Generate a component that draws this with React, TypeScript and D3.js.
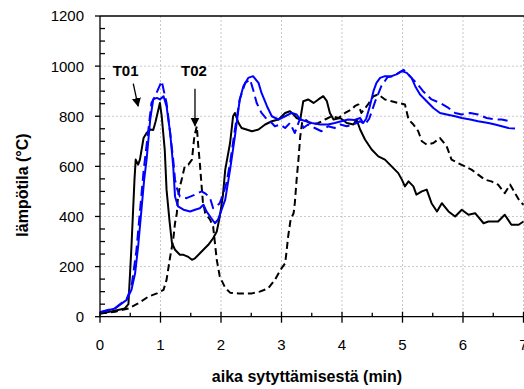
import React from "react";
import * as d3 from "d3";

const xTicks = [0, 1, 2, 3, 4, 5, 6, 7];
const yTicks = [0, 200, 400, 600, 800, 1000, 1200];

const blackSolid: [number, number][] = [
  [0, 13], [0.2, 22], [0.41, 33], [0.47, 50], [0.52, 280], [0.57, 547], [0.59, 627], [0.63, 607], [0.66, 627],
  [0.72, 713], [0.77, 733], [0.83, 747], [0.88, 745], [0.92, 780], [0.99, 853], [1.02, 800], [1.07, 667],
  [1.1, 507], [1.15, 380], [1.19, 293], [1.24, 267], [1.32, 247], [1.38, 247], [1.45, 240], [1.52, 227],
  [1.57, 233], [1.68, 260], [1.79, 287], [1.87, 313], [1.93, 340], [1.98, 400], [2.03, 480], [2.07, 587],
  [2.15, 693], [2.2, 800], [2.23, 813], [2.29, 773], [2.34, 753], [2.42, 747], [2.51, 740], [2.62, 747],
  [2.73, 767], [2.84, 780], [2.95, 787], [3.06, 813], [3.14, 820], [3.2, 807], [3.25, 793], [3.31, 787],
  [3.36, 860], [3.44, 867], [3.53, 853], [3.61, 867], [3.69, 880], [3.75, 860], [3.8, 813], [3.86, 787],
  [3.97, 793], [4.08, 773], [4.19, 767], [4.24, 787], [4.3, 747], [4.38, 707], [4.49, 667], [4.6, 640],
  [4.71, 627], [4.82, 600], [4.93, 573], [4.99, 547], [5.04, 520], [5.1, 540], [5.18, 520], [5.23, 487],
  [5.32, 500], [5.4, 507], [5.48, 453], [5.57, 420], [5.65, 453], [5.76, 420], [5.87, 400], [5.98, 427],
  [6.09, 407], [6.2, 413], [6.34, 373], [6.42, 380], [6.58, 380], [6.69, 407], [6.8, 367], [6.92, 367], [7.0, 380],
];

const blackDashed: [number, number][] = [
  [0, 13], [0.25, 20], [0.47, 33], [0.63, 53], [0.8, 80], [0.94, 93], [1.05, 107], [1.1, 147], [1.16, 240],
  [1.21, 307], [1.24, 373], [1.27, 413], [1.29, 480], [1.32, 520], [1.35, 547], [1.4, 600], [1.46, 607],
  [1.52, 627], [1.56, 720], [1.6, 760], [1.62, 693], [1.65, 613], [1.68, 520], [1.7, 460], [1.74, 413],
  [1.82, 387], [1.87, 360], [1.93, 227], [1.98, 160], [2.07, 115], [2.15, 96], [2.29, 93], [2.51, 93],
  [2.64, 100], [2.78, 113], [2.89, 147], [3.0, 193], [3.06, 213], [3.08, 253], [3.11, 320], [3.15, 387],
  [3.2, 413], [3.22, 453], [3.25, 547], [3.28, 627], [3.31, 720], [3.34, 773], [3.39, 787], [3.5, 767],
  [3.61, 773], [3.72, 787], [3.83, 800], [3.94, 793], [4.05, 813], [4.16, 827], [4.21, 840], [4.27, 847],
  [4.32, 813], [4.43, 847], [4.52, 880], [4.6, 887], [4.71, 867], [4.82, 860], [4.93, 853], [5.04, 847],
  [5.1, 787], [5.18, 767], [5.26, 740], [5.32, 700], [5.4, 687], [5.51, 693], [5.62, 713], [5.73, 680],
  [5.81, 627], [5.92, 613], [6.03, 600], [6.14, 587], [6.25, 567], [6.36, 547], [6.47, 540], [6.58, 527],
  [6.69, 493], [6.78, 527], [6.86, 493], [6.94, 460], [7.0, 447],
];

const blueSolid: [number, number][] = [
  [0, 18], [0.25, 33], [0.44, 67], [0.52, 107], [0.58, 173], [0.63, 280], [0.69, 440], [0.73, 547],
  [0.77, 627], [0.83, 787], [0.88, 867], [0.94, 873], [0.99, 867], [1.05, 880], [1.1, 840], [1.16, 733],
  [1.21, 600], [1.24, 480], [1.29, 440], [1.38, 427], [1.49, 420], [1.57, 427], [1.65, 433], [1.71, 447],
  [1.76, 420], [1.84, 393], [1.9, 373], [1.95, 387], [2.01, 427], [2.07, 467], [2.15, 587], [2.23, 720],
  [2.31, 867], [2.37, 920], [2.45, 953], [2.53, 960], [2.62, 933], [2.67, 893], [2.76, 840], [2.84, 800],
  [2.95, 787], [3.06, 800], [3.17, 813], [3.25, 807], [3.31, 787], [3.5, 773], [3.64, 767], [3.77, 767],
  [3.88, 773], [3.99, 780], [4.1, 787], [4.21, 785], [4.3, 793], [4.35, 773], [4.4, 790], [4.46, 840],
  [4.52, 900], [4.57, 933], [4.63, 953], [4.71, 960], [4.82, 960], [4.9, 967], [4.99, 980], [5.07, 973],
  [5.15, 953], [5.21, 920], [5.29, 887], [5.4, 860], [5.51, 833], [5.62, 813], [5.73, 807], [5.87, 800],
  [5.98, 793], [6.12, 787], [6.25, 780], [6.42, 773], [6.53, 767], [6.64, 760], [6.75, 753], [6.86, 751],
];

const blueDashed: [number, number][] = [
  [0, 18], [0.25, 35], [0.44, 70], [0.52, 120], [0.6, 260], [0.66, 420], [0.72, 580], [0.8, 747],
  [0.85, 853], [0.91, 880], [0.96, 907], [1.02, 940], [1.05, 907], [1.1, 853], [1.16, 733], [1.21, 627],
  [1.24, 547], [1.27, 513], [1.32, 480], [1.43, 473], [1.57, 487], [1.68, 500], [1.75, 490], [1.82, 473],
  [1.87, 433], [1.92, 440], [1.98, 453], [2.04, 493], [2.09, 533], [2.15, 613], [2.23, 747], [2.31, 867],
  [2.4, 933], [2.48, 947], [2.53, 907], [2.59, 853], [2.67, 813], [2.76, 787], [2.84, 773], [2.89, 760],
  [2.98, 767], [3.06, 753], [3.14, 773], [3.22, 733], [3.31, 793], [3.36, 753], [3.44, 767], [3.55, 753],
  [3.66, 740], [3.77, 760], [3.88, 753], [3.97, 767], [4.08, 760], [4.19, 767], [4.3, 780], [4.38, 767],
  [4.45, 790], [4.55, 860], [4.65, 920], [4.75, 955], [4.85, 960], [4.95, 975], [5.02, 985], [5.12, 960],
  [5.23, 933], [5.34, 900], [5.48, 867], [5.62, 853], [5.76, 833], [5.87, 813], [5.98, 807], [6.12, 813],
  [6.25, 807], [6.39, 793], [6.53, 787], [6.64, 787], [6.78, 780],
];

// annotation anchors in data units
const t01Note = { label: "T01", tx: 0.21, tv: 960, x1: 0.55, v1: 930, x2: 0.63, v2: 840 };
const t02Note = { label: "T02", tx: 1.34, tv: 960, x1: 1.57, v1: 910, x2: 1.57, v2: 762 };

const W = 524;
const H = 389;
const left = 100;
const right = 523.5;
const top = 16;
const bottom = 316.7;

export default function App() {
  const x = d3.scaleLinear().domain([0, 7]).range([left, right]);
  const y = d3.scaleLinear().domain([0, 1200]).range([bottom, top]);
  const line = d3
    .line<[number, number]>()
    .x((d) => x(d[0]))
    .y((d) => y(d[1]));

  const minorY = d3.range(50, 1200, 50).filter((v) => v % 200 !== 0);
  const minorX = d3.range(0.5, 7, 1);
  const font = "'Liberation Sans', Arial, sans-serif";

  const notes = [t01Note, t02Note];

  return (
    <svg
      width={W}
      height={H}
      style={{ position: "absolute", left: 0, top: 0, background: "#fff" }}
      fontFamily={font}
    >
      <defs>
        <clipPath id="plot">
          <rect x={left} y={top - 2} width={right - left + 2} height={bottom - top + 4} />
        </clipPath>
        <marker id="arrow" viewBox="0 0 10 10" refX="9" refY="5" markerWidth="7" markerHeight="7" orient="auto">
          <path d="M0,0 L10,5 L0,10 z" fill="#000" />
        </marker>
      </defs>
      <rect x={0} y={0} width={W} height={H} fill="#fff" />
      {/* grid */}
      {xTicks.slice(1).map((t) => (
        <line key={"gx" + t} x1={x(t)} x2={x(t)} y1={top} y2={bottom} stroke="#c8c8c8" strokeWidth={1} strokeDasharray="2,2" />
      ))}
      {yTicks.slice(1, -1).map((v) => (
        <line key={"gy" + v} x1={left} x2={right} y1={y(v)} y2={y(v)} stroke="#c8c8c8" strokeWidth={1} strokeDasharray="2,2" />
      ))}
      {/* top border */}
      <line x1={left} x2={W} y1={top} y2={top} stroke="#000" strokeWidth={1.3} />

      {/* series */}
      <g clipPath="url(#plot)" fill="none" strokeLinejoin="round">
        <path d={line(blackDashed) || ""} stroke="#000" strokeWidth={2} strokeDasharray="7,4" />
        <path d={line(blackSolid) || ""} stroke="#000" strokeWidth={2} />
        <path d={line(blueDashed) || ""} stroke="#0000ff" strokeWidth={2} strokeDasharray="10,5" />
        <path d={line(blueSolid) || ""} stroke="#0000ff" strokeWidth={2} />
      </g>

      {/* axes */}
      <line x1={left} x2={left} y1={top} y2={bottom} stroke="#000" strokeWidth={1.3} />
      <line x1={left} x2={W} y1={bottom} y2={bottom} stroke="#000" strokeWidth={1.3} />
      {yTicks.map((v) => (
        <g key={"yt" + v}>
          <line x1={left - 5} x2={left} y1={y(v)} y2={y(v)} stroke="#000" strokeWidth={1.3} />
          <text x={left - 16} y={y(v)} dy="0.36em" textAnchor="end" fontSize={15} fill="#000">
            {v}
          </text>
        </g>
      ))}
      {minorY.map((v) => (
        <line key={"ym" + v} x1={left} x2={left + 5} y1={y(v)} y2={y(v)} stroke="#000" strokeWidth={1.3} />
      ))}
      {xTicks.map((t) => (
        <g key={"xt" + t}>
          <line x1={x(t)} x2={x(t)} y1={bottom - 5} y2={bottom + 6} stroke="#000" strokeWidth={1.3} />
          <text x={x(t)} y={349.5} textAnchor="middle" fontSize={15} fill="#000">
            {t}
          </text>
        </g>
      ))}
      {minorX.map((t) => (
        <line key={"xm" + t} x1={x(t)} x2={x(t)} y1={bottom - 4} y2={bottom} stroke="#000" strokeWidth={1.3} />
      ))}

      {/* axis titles */}
      <text x={307} y={382} textAnchor="middle" fontSize={16} fontWeight="bold" fill="#000">
        aika sytyttämisestä (min)
      </text>
      <text
        transform="translate(28,185) rotate(-90)"
        textAnchor="middle"
        fontSize={16}
        fontWeight="bold"
        fill="#000"
      >
        lämpötila (°C)
      </text>

      {/* annotations */}
      {notes.map((n) => (
        <g key={n.label}>
          <text x={x(n.tx)} y={y(n.tv)} fontSize={15} fontWeight="bold" fill="#000">
            {n.label}
          </text>
          <line
            x1={x(n.x1)}
            y1={y(n.v1)}
            x2={x(n.x2)}
            y2={y(n.v2)}
            stroke="#000"
            strokeWidth={1.3}
            markerEnd="url(#arrow)"
          />
        </g>
      ))}
    </svg>
  );
}
